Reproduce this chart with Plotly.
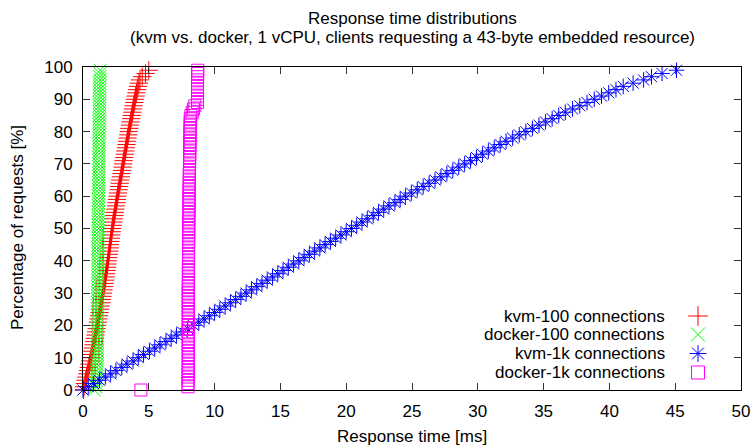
import plotly.graph_objects as go

# Percentile (y) values
pct = list(range(100))

# Response time [ms] per percentile
kvm_100 = [0.05, 0.08, 0.15, 0.2, 0.26, 0.32, 0.38, 0.44, 0.49, 0.55,
           0.6, 0.65, 0.7, 0.75, 0.8, 0.85, 0.89, 0.94, 0.99, 1.04,
           1.08, 1.13, 1.17, 1.22, 1.26, 1.31, 1.35, 1.4, 1.44, 1.48,
           1.52, 1.56, 1.6, 1.64, 1.68, 1.72, 1.75, 1.79, 1.83, 1.86,
           1.9, 1.93, 1.96, 2.0, 2.03, 2.06, 2.09, 2.12, 2.16, 2.19,
           2.22, 2.26, 2.3, 2.34, 2.38, 2.42, 2.46, 2.5, 2.54, 2.58,
           2.62, 2.66, 2.71, 2.75, 2.79, 2.84, 2.88, 2.92, 2.97, 3.01,
           3.05, 3.09, 3.13, 3.18, 3.22, 3.26, 3.31, 3.35, 3.39, 3.44,
           3.48, 3.52, 3.57, 3.62, 3.66, 3.71, 3.76, 3.8, 3.85, 3.9,
           3.95, 4.0, 4.06, 4.12, 4.18, 4.25, 4.33, 4.5, 4.75, 5.0]

docker_100 = [0.85, 0.95, 1.0, 1.02, 1.03, 1.04, 1.05, 1.05, 1.06, 1.06,
              1.07, 1.07, 1.08, 1.08, 1.08, 1.09, 1.09, 1.09, 1.1, 1.1,
              1.1, 1.1, 1.11, 1.11, 1.11, 1.11, 1.12, 1.12, 1.12, 1.12,
              1.13, 1.13, 1.13, 1.13, 1.13, 1.14, 1.14, 1.14, 1.14, 1.14,
              1.15, 1.15, 1.15, 1.15, 1.15, 1.16, 1.16, 1.16, 1.16, 1.16,
              1.17, 1.17, 1.17, 1.17, 1.17, 1.18, 1.18, 1.18, 1.18, 1.18,
              1.19, 1.19, 1.19, 1.19, 1.2, 1.2, 1.2, 1.2, 1.2, 1.21,
              1.21, 1.21, 1.21, 1.21, 1.22, 1.22, 1.22, 1.22, 1.22, 1.23,
              1.23, 1.23, 1.23, 1.24, 1.24, 1.24, 1.24, 1.25, 1.25, 1.25,
              1.25, 1.26, 1.26, 1.26, 1.27, 1.27, 1.28, 1.28, 1.29, 1.3]

kvm_1k = [0.0, 0.4, 0.8, 1.25, 1.7, 2.1, 2.5, 2.95, 3.35, 3.8,
          4.2, 4.6, 5.05, 5.45, 5.85, 6.3, 6.7, 7.1, 7.55, 7.95,
          8.4, 8.8, 9.2, 9.6, 10.0, 10.4, 10.8, 11.2, 11.6, 12.0,
          12.4, 12.8, 13.2, 13.6, 14.0, 14.4, 14.8, 15.2, 15.6, 16.0,
          16.4, 16.8, 17.2, 17.6, 18.0, 18.4, 18.8, 19.2, 19.6, 20.0,
          20.4, 20.8, 21.2, 21.6, 22.05, 22.45, 22.85, 23.25, 23.7, 24.1,
          24.5, 24.95, 25.4, 25.85, 26.3, 26.75, 27.2, 27.65, 28.1, 28.55,
          29.0, 29.45, 29.9, 30.35, 30.8, 31.25, 31.7, 32.15, 32.65, 33.15,
          33.65, 34.15, 34.65, 35.15, 35.65, 36.15, 36.65, 37.2, 37.75, 38.3,
          38.85, 39.4, 39.95, 40.5, 41.05, 41.8, 42.6, 43.2, 44.0, 45.1]

docker_1k = [4.4, 7.98, 7.98, 7.99, 7.99, 7.99, 8.0, 8.0, 8.0, 8.0,
             8.0, 8.0, 8.0, 8.0, 8.0, 8.0, 8.0, 8.0, 8.0, 8.0,
             8.0, 8.0, 8.0, 8.0, 8.0, 8.0, 8.0, 8.0, 8.0, 8.0,
             8.0, 8.0, 8.0, 8.01, 8.01, 8.01, 8.01, 8.01, 8.01, 8.01,
             8.02, 8.02, 8.02, 8.02, 8.02, 8.02, 8.03, 8.03, 8.03, 8.03,
             8.03, 8.04, 8.04, 8.04, 8.04, 8.05, 8.05, 8.05, 8.05, 8.06,
             8.06, 8.06, 8.07, 8.07, 8.07, 8.08, 8.08, 8.08, 8.09, 8.09,
             8.1, 8.1, 8.1, 8.11, 8.11, 8.12, 8.12, 8.12, 8.13, 8.13,
             8.13, 8.14, 8.14, 8.15, 8.15, 8.2, 8.3, 8.4, 8.5, 8.7,
             8.7, 8.7, 8.7, 8.7, 8.7, 8.7, 8.7, 8.71, 8.71, 8.72]

series_names = ["kvm-100 connections", "docker-100 connections",
                "kvm-1k connections", "docker-1k connections"]
series_data = [kvm_100, docker_100, kvm_1k, docker_1k]
colors = ["#ff0000", "#00ff00", "#0000ff", "#ff00ff"]
symbols = ["cross-thin-open", "x-thin-open", "asterisk-open", "square-open"]
sizes = [13, 13, 13, 12]

x_ticks = [0, 5, 10, 15, 20, 25, 30, 35, 40, 45, 50]
y_ticks = [0, 10, 20, 30, 40, 50, 60, 70, 80, 90, 100]

FONT = "Liberation Sans, Arial, sans-serif"
FS = 17

W, H = 755, 445
L, R, T, B = 83, 14, 67, 55
pw, ph = W - L - R, H - T - B

fig = go.Figure()
for name, xs, c, s, sz in zip(series_names, series_data, colors, symbols, sizes):
    fig.add_trace(go.Scatter(
        x=xs, y=pct, mode="markers", name=name, showlegend=False,
        marker=dict(symbol=s, size=sz, color=c, line=dict(color=c, width=1)),
        cliponaxis=False,
    ))

# Manual gnuplot-style legend (text left, key symbol right)
leg_py = [316, 334.5, 353.5, 372.5]
for name, c, s, sz, py in zip(series_names, colors, symbols, sizes, leg_py):
    ly = (H - B - py) / ph
    fig.add_trace(go.Scatter(
        x=[(698 - L) / pw], y=[ly], xaxis="x2", yaxis="y2", mode="markers",
        showlegend=False, hoverinfo="skip",
        marker=dict(symbol=s, size=sz + 1, color=c, line=dict(color=c, width=1)),
    ))
    fig.add_annotation(x=(667 - L) / pw, y=ly, xref="paper", yref="paper",
                       text=name, showarrow=False, xanchor="right", yanchor="middle",
                       font=dict(family=FONT, size=FS, color="#000"))

axis_common = dict(
    showline=True, linecolor="#000", linewidth=1, mirror="ticks",
    ticks="inside", ticklen=7, tickcolor="#333", tickwidth=1,
    showgrid=False, zeroline=False, automargin=False,
    tickfont=dict(family=FONT, size=FS, color="#000"),
)

fig.update_layout(
    width=W, height=H, autosize=False,
    margin=dict(l=L, r=R, t=T, b=B, autoexpand=False),
    paper_bgcolor="white", plot_bgcolor="white",
    showlegend=False,
    xaxis=dict(range=[0, 50], tickvals=x_ticks, ticklabelstandoff=6, **axis_common),
    yaxis=dict(range=[0, 100], tickvals=y_ticks, ticklabelstandoff=6, **axis_common),
    xaxis2=dict(overlaying="x", range=[0, 1], visible=False),
    yaxis2=dict(overlaying="y", range=[0, 1], visible=False),
    font=dict(family=FONT, size=FS, color="#000"),
)

annots = [
    dict(text="Response time distributions", px=412, py=18, angle=0),
    dict(text="(kvm vs. docker, 1 vCPU, clients requesting a 43-byte embedded resource)", px=412, py=37, angle=0),
    dict(text="Response time [ms]", px=412, py=437, angle=0),
    dict(text="Percentage of requests [%]", px=17, py=228, angle=-90),
]
for a in annots:
    fig.add_annotation(
        x=(a["px"] - L) / pw, y=(H - B - a["py"]) / ph, xref="paper", yref="paper",
        text=a["text"], showarrow=False, textangle=a["angle"],
        xanchor="center", yanchor="middle",
        font=dict(family=FONT, size=FS, color="#000"),
    )

fig.write_html("out.html")
